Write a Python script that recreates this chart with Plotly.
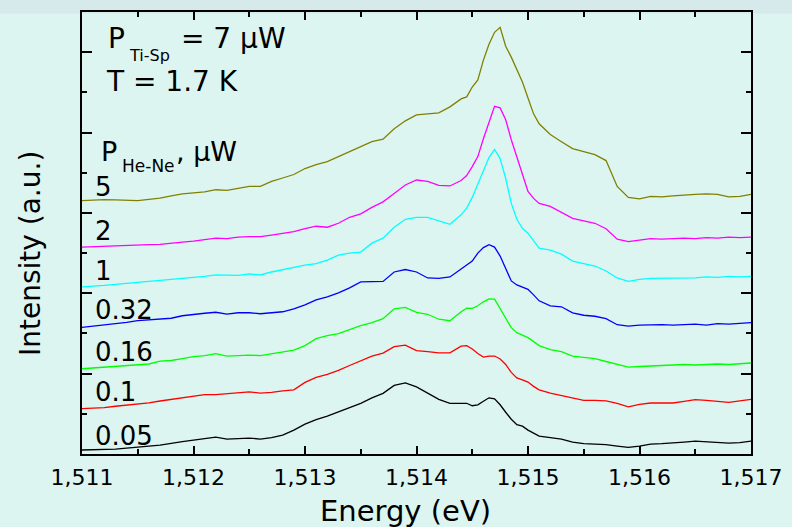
import plotly.graph_objects as go

# Photon energy (eV)
energy = [1.5110, 1.5111, 1.5112, 1.5113, 1.5114, 1.5115, 1.5116, 1.5117, 1.5118, 1.5119,
          1.5120, 1.5121, 1.5122, 1.5123, 1.5124, 1.5125, 1.5126, 1.5127, 1.5128, 1.5129,
          1.5130, 1.5131, 1.5132, 1.5133, 1.5134, 1.5135, 1.5136, 1.5137, 1.5138, 1.5139,
          1.5140, 1.5141, 1.5142, 1.5143, 1.5144, 1.51445, 1.5145, 1.51455, 1.5146, 1.51465,
          1.5147, 1.51475, 1.5148, 1.51485, 1.5149, 1.51495, 1.5150, 1.51505,
          1.5151, 1.5152, 1.5153, 1.5154, 1.5155, 1.5156, 1.5157, 1.5158, 1.5159,
          1.5160, 1.5161, 1.5162, 1.5163, 1.5164, 1.5165, 1.5166, 1.5167, 1.5168, 1.5169, 1.5170]

# Intensity (a.u., vertically offset spectra) for each He-Ne power
i_005 = [4, 4.3, 4.5, 5, 6, 7.3, 8, 9, 11, 12.5,
         14, 15.5, 17, 15, 15.5, 16, 15, 16.5, 19, 24,
         30, 34.5, 38, 42.5, 46.5, 51, 56.5, 61, 69, 71.5,
         67.5, 61, 55, 51, 51, 51, 48.5, 49.5, 53, 56.5,
         55.5, 49.5, 42, 35, 29.5, 28, 24, 21,
         18, 16.5, 15, 12, 10.5, 10, 9.5, 8, 6.7,
         8, 10, 10.5, 11, 12, 13, 12.5, 11.5, 11, 11.5, 13]
i_01 = [45.7, 46, 46.7, 48, 49, 50, 51.5, 53.3, 55, 57,
        58.5, 59.7, 59.7, 60.5, 62, 62.5, 61.3, 62, 63.5, 64.5,
        72, 77, 80, 84, 89, 94, 98.5, 101.5, 108, 109.5,
        104, 103, 101.7, 101.7, 108.5, 109, 105.5, 101, 97.5, 98.5,
        98.5, 95.5, 90, 82, 76.5, 74.5, 72.3, 68,
        64.5, 61.3, 59, 56, 54, 54, 53.5, 51, 47.5,
        50, 51.3, 51.5, 51.3, 53, 54.7, 54, 53, 52, 53.5, 55]
i_016 = [85.7, 86.5, 87.3, 88, 89, 89.5, 90.5, 93.3, 94, 96,
         98, 99, 101, 98.5, 99, 99.5, 99, 101, 102.5, 104.5,
         109, 116, 119, 121, 125, 129, 132, 136, 146, 147.5,
         142.5, 140.5, 135.5, 134, 143, 146.7, 146.5, 149, 153, 156,
         155.7, 146, 136, 127, 122, 119.5, 117, 113,
         109, 105, 103, 98.5, 97, 96, 93, 90, 87.3,
         88, 88.5, 89, 89.5, 90, 89.5, 90, 90.5, 90, 91, 91.5]
i_032 = [127.3, 128.5, 129.5, 130.5, 132.3, 134, 134.7, 135.5, 136.5, 139,
         140.5, 141.5, 142.5, 140.7, 142, 142, 141, 142, 143, 146,
         150, 155, 158, 162, 167, 173, 173, 173.5, 183, 185.5,
         183, 177, 176.5, 178, 186, 190, 194, 202, 207.5, 210.5,
         208, 199, 186, 174, 170, 167.5, 165.5, 160,
         154, 149, 148, 142, 139.5, 138.5, 136, 130, 128.5,
         129.5, 130, 130, 129.5, 130, 130.5, 129.5, 131, 130.5, 131, 132]
i_1 = [168, 168.5, 169.5, 170.5, 171.5, 172.3, 173, 174, 175, 176,
       177.3, 178.5, 180, 179.5, 179.5, 181, 180, 183, 185.5, 188,
       190, 191.5, 195, 200, 202, 203, 212, 217, 228, 236,
       238, 238, 234.5, 231, 240.5, 247.3, 258, 271, 284, 298,
       306.3, 297, 277, 252, 236, 227, 222, 215,
       207, 205, 201, 194, 191.5, 189, 184, 177, 173.5,
       175.5, 176.5, 176.7, 177, 177.5, 177, 178, 177.5, 178.5, 178, 178.5]
i_2 = [208, 208.5, 209, 209.5, 209.7, 210, 210.5, 210.7, 211.5, 213,
       214, 215.5, 217, 216.5, 218, 218.5, 218.5, 220, 221.5, 223.5,
       226.5, 229, 228, 232, 238, 241.5, 248, 253.5, 262, 270.5,
       275.5, 274, 270, 269.5, 275, 280, 289, 299, 317, 334,
       349.5, 348, 336, 316, 298, 282, 264, 257,
       252, 249, 243, 237, 234.5, 232, 226.5, 216, 213.5,
       214.7, 216.5, 216, 216.5, 217, 216.5, 217.5, 217, 218, 217.5, 218]
i_5 = [254.7, 255.3, 255.7, 255.5, 255, 254.7, 256, 257.3, 259.5, 261.5,
       262.5, 263.5, 265.7, 265, 267, 269, 269, 274, 277.5, 281,
       287, 291, 294, 299, 304, 309, 314, 316.5, 327, 335,
       341, 342, 343, 349, 357, 359, 369, 376, 396, 412,
       424, 429, 410, 399, 386, 374, 358, 342,
       332, 321.3, 314, 307, 304, 301, 295, 269, 258,
       256.5, 259, 258.5, 259.5, 260.5, 261, 261.5, 261, 258.5, 259, 261]

powers = ["0.05", "0.1", "0.16", "0.32", "1", "2", "5"]
spectra = [i_005, i_01, i_016, i_032, i_1, i_2, i_5]
colors = ["#000000", "#ff0000", "#00ff00", "#0000ff", "#00ffff", "#ff00ff", "#808000"]
label_y = [0.0417, 0.1403, 0.2297, 0.3266, 0.4144, 0.5045, 0.6036]

FONT = "DejaVu Sans"
BG = "#ddf5f0"

fig = go.Figure()
for p, vals, c in zip(powers, spectra, colors):
    fig.add_trace(go.Scatter(x=energy, y=vals, mode="lines", name=p,
                             line=dict(color=c, width=1.3), showlegend=False))

annotations = []
for p, yy in zip(powers, label_y):
    annotations.append(dict(text=p, x=0.0164, y=yy, xref="paper", yref="paper",
                            xanchor="left", yanchor="middle", showarrow=False,
                            font=dict(family=FONT, size=26, color="black")))

def txt(t, x, y, size, **kw):
    d = dict(text=t, x=x, y=y, xref="paper", yref="paper", xanchor="left",
             yanchor="middle", showarrow=False,
             font=dict(family=FONT, size=size, color="black"))
    d.update(kw)
    return d

annotations += [
    txt("P", 0.0358, 0.9392, 28),
    txt("Ti-Sp", 0.0672, 0.9025, 16),
    txt("= 7 μW", 0.1455, 0.9392, 28),
    txt("T = 1.7 K", 0.0330, 0.8423, 28),
    txt("P", 0.0254, 0.6847, 27),
    txt("He-Ne", 0.0567, 0.6509, 17),
    txt(", μW", 0.1380, 0.6847, 27),
    dict(text="Energy (eV)", x=0.4836, y=-0.1284, xref="paper", yref="paper",
         xanchor="center", yanchor="middle", showarrow=False,
         font=dict(family=FONT, size=29, color="black")),
    dict(text="Intensity (a.u.)", x=-0.0761, y=0.4527, xref="paper", yref="paper",
         xanchor="center", yanchor="middle", showarrow=False, textangle=-90,
         font=dict(family=FONT, size=28, color="black")),
]

fig.update_layout(
    width=792, height=527,
    margin=dict(l=82, r=40, t=10, b=73),
    paper_bgcolor=BG, plot_bgcolor=BG,
    separators=", ",
    annotations=annotations,
    shapes=[dict(type="rect", xref="paper", yref="paper", x0=-0.2, x1=1.2,
                 y0=0.9966, y1=1.1, fillcolor="#d6eaeb", line=dict(width=0),
                 layer="below")],
    xaxis=dict(range=[1.511, 1.517], showline=True, linecolor="black", linewidth=2,
               mirror="ticks", ticks="inside", ticklen=8, tickwidth=2, tickcolor="black",
               tick0=1.511, dtick=0.001, tickformat=".3f", ticklabelstandoff=3,
               tickfont=dict(family=FONT, size=22, color="black"),
               minor=dict(ticks="inside", ticklen=5, tickwidth=2, tickcolor="black",
                          tick0=1.511, dtick=0.0005),
               showgrid=False, zeroline=False),
    yaxis=dict(range=[0, 444.4], showline=True, linecolor="black", linewidth=2,
               mirror="ticks", ticks="inside", ticklen=10, tickwidth=2, tickcolor="black",
               tick0=0, dtick=80.8, showticklabels=False,
               minor=dict(ticks="inside", ticklen=5, tickwidth=2, tickcolor="black",
                          tick0=0, dtick=40.4),
               showgrid=False, zeroline=False),
)

fig.write_html("out.html")
